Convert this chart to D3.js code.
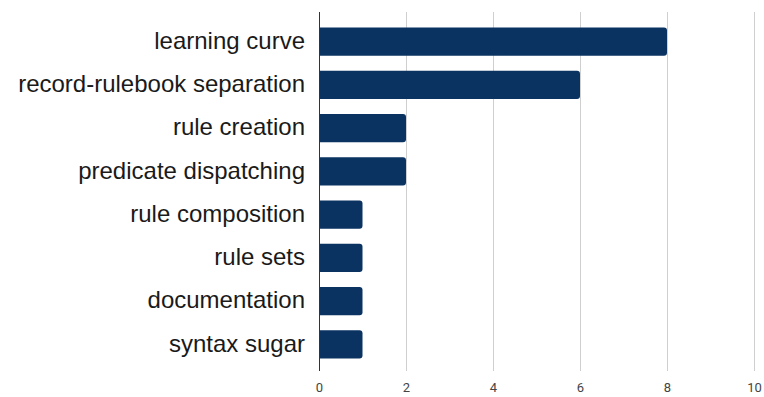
<!DOCTYPE html>
<html>
<head>
<meta charset="utf-8">
<script src="https://cdn.jsdelivr.net/npm/d3@7"></script>
<style>
  html, body { margin: 0; padding: 0; background: #fff; }
  svg { display: block; }
  .cat { font-family: "Liberation Sans", Arial, sans-serif; }
  .tick { font-family: "Roboto", sans-serif; }
</style>
</head>
<body>
<svg id="chart" width="764" height="397"></svg>
<script>
const categories = [
  "learning curve",
  "record-rulebook separation",
  "rule creation",
  "predicate dispatching",
  "rule composition",
  "rule sets",
  "documentation",
  "syntax sugar"
];
const counts = [8, 6, 2, 2, 1, 1, 1, 1];
const tickValues = [0, 2, 4, 6, 8, 10];

const svg = d3.select("#chart");
const barColor = "#0b3361";

const x = d3.scaleLinear().domain([0, 10]).range([319, 754]);
const y = d3.scaleBand()
  .domain(categories)
  .range([20, 366])
  .paddingInner(0.35)
  .paddingOuter(0.175);

const plotTop = 12, plotBottom = 371;

// vertical gridlines
svg.append("g")
  .selectAll("line")
  .data(tickValues.filter(d => d > 0))
  .join("line")
  .attr("x1", d => x(d) + 0.5)
  .attr("x2", d => x(d) + 0.5)
  .attr("y1", plotTop)
  .attr("y2", plotBottom)
  .attr("stroke", "#cfcfcf")
  .attr("stroke-width", 1);

// bars with rounded right end
const r = 3;
function barPath(d, i) {
  const x0 = x(0), x1 = x(counts[i]);
  const y0 = y(d), h = y.bandwidth();
  return `M${x0},${y0}H${x1 - r}Q${x1},${y0} ${x1},${y0 + r}` +
         `V${y0 + h - r}Q${x1},${y0 + h} ${x1 - r},${y0 + h}H${x0}Z`;
}
svg.append("g")
  .selectAll("path")
  .data(categories)
  .join("path")
  .attr("d", barPath)
  .attr("fill", barColor);

// baseline
svg.append("line")
  .attr("x1", x(0) + 0.5).attr("x2", x(0) + 0.5)
  .attr("y1", plotTop).attr("y2", plotBottom)
  .attr("stroke", "#333").attr("stroke-width", 1);

// category labels
svg.append("g")
  .selectAll("text")
  .data(categories)
  .join("text")
  .attr("class", "cat")
  .attr("x", 305)
  .attr("y", d => y(d) + y.bandwidth() / 2)
  .attr("dy", "0.3em")
  .attr("text-anchor", "end")
  .attr("font-size", 24)
  .attr("fill", "#1a1a1a")
  .text(d => d);

// value axis labels
svg.append("g")
  .selectAll("text")
  .data(tickValues)
  .join("text")
  .attr("class", "tick")
  .attr("x", d => x(d) + 0.5)
  .attr("y", 392)
  .attr("text-anchor", "middle")
  .attr("font-size", 13)
  .attr("fill", "#444")
  .text(d => d);
</script>
</body>
</html>
